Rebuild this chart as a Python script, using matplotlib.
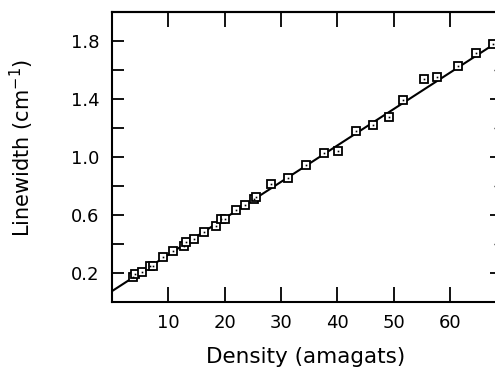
import matplotlib
matplotlib.use('Agg')
import numpy as np
import matplotlib.pyplot as plt
from matplotlib.ticker import FixedLocator

# data
density = [3.8, 4.0, 5.4, 6.7, 7.2, 9.1, 10.9, 12.7, 13.1, 14.6, 16.3,
           18.4, 19.3, 20.0, 22.1, 23.7, 25.3, 25.6, 28.2, 31.2, 34.4,
           37.6, 40.2, 43.4, 46.4, 49.2, 51.7, 55.4, 57.7, 61.4, 64.6, 67.7]
linewidth = [0.175, 0.195, 0.207, 0.25, 0.25, 0.312, 0.35, 0.383, 0.413,
             0.434, 0.48, 0.523, 0.571, 0.571, 0.635, 0.668, 0.707, 0.727,
             0.816, 0.853, 0.945, 1.03, 1.039, 1.177, 1.222, 1.275, 1.39,
             1.536, 1.555, 1.63, 1.72, 1.782]

fit_intercept = 0.075
fit_slope = 0.0251

x_major = [10, 20, 30, 40, 50, 60]
y_major = [0.2, 0.6, 1.0, 1.4, 1.8]
y_minor = [0.4, 0.8, 1.2, 1.6]
y_labels = ['0.2', '0.6', '1.0', '1.4', '1.8']

plt.rcParams['font.family'] = 'DejaVu Sans'
plt.rcParams['font.size'] = 13

fig = plt.figure(figsize=(4.95, 3.7), dpi=100)
ax = fig.add_axes([0.2263, 0.1838, 0.7758, 0.7838])

xlim = (0, 68.2)
xf = np.array(xlim)
ax.plot(xf, fit_intercept + fit_slope*xf, c='black', lw=1.5, zorder=2)
ax.plot(density, linewidth, ls='none', marker='s', ms=6, mfc='white',
        mec='black', mew=1.3, zorder=3)
ax.plot(density, linewidth, ls='none', marker='s', ms=1.2, mfc='black',
        mec='black', mew=0, zorder=4)

ax.set_xlim(xlim)
ax.set_ylim(0, 2.0)

for side in ['left', 'bottom', 'top', 'right']:
    ax.spines[side].set_linewidth(1.5)

ax.xaxis.set_major_locator(FixedLocator(x_major))
ax.yaxis.set_major_locator(FixedLocator(y_major))
ax.yaxis.set_minor_locator(FixedLocator(y_minor))
ax.set_yticklabels(y_labels)
ax.tick_params(axis='x', which='major', direction='in', length=10.5,
               width=1.3, pad=9, labelsize=13)
ax.tick_params(axis='y', which='both', direction='in', length=8.5,
               width=1.3, pad=9, labelsize=13)

top = ax.secondary_xaxis('top')
top.xaxis.set_major_locator(FixedLocator(x_major))
top.tick_params(direction='in', length=11, width=1.3, labeltop=False)
top.spines['top'].set_linewidth(1.5)

right = ax.secondary_yaxis('right')
right.yaxis.set_major_locator(FixedLocator(y_major))
right.yaxis.set_minor_locator(FixedLocator(y_minor))
right.tick_params(which='major', direction='in', length=4.5, width=1.3,
                  labelright=False)
right.tick_params(which='minor', direction='in', length=1.5, width=1.0,
                  labelright=False)

fig.text(0.618, 0.02, 'Density (amagats)', fontsize=15.5,
         ha='center', va='baseline')
fig.text(0.045, 0.6, 'Linewidth (cm$^{-1}$)', fontsize=15,
         rotation=90, ha='center', va='center')

fig.savefig('out.png', dpi=100)
